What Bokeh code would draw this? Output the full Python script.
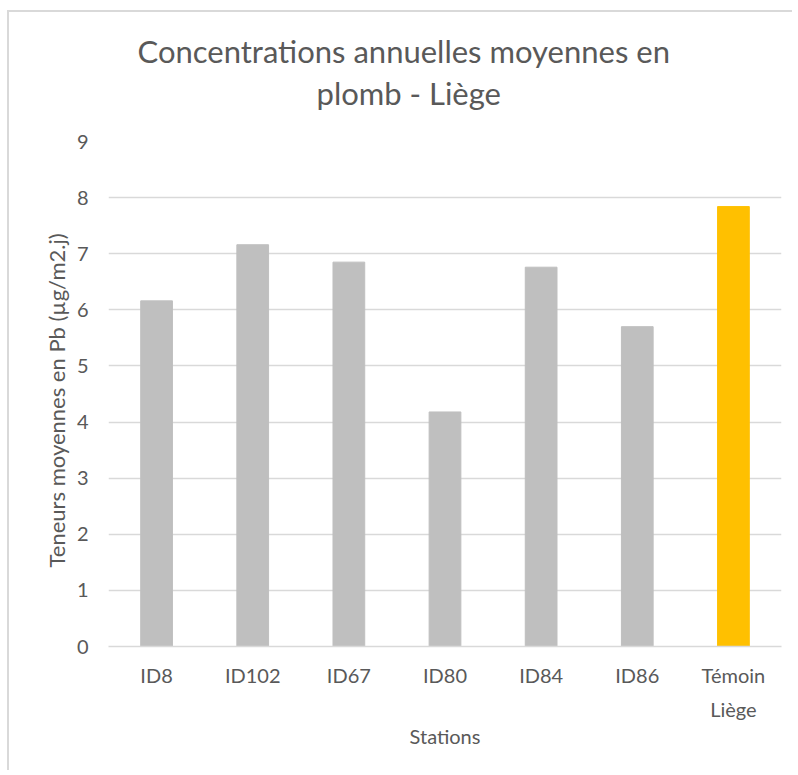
from bokeh.plotting import figure
from bokeh.models import ColumnDataSource, Title, FactorRange, Range1d, FixedTicker
from bokeh.embed import file_html
from bokeh.resources import INLINE

# ---- data ----
stations = ["ID8", "ID102", "ID67", "ID80", "ID84", "ID86", "Témoin\nLiège"]
teneurs = [6.16, 7.16, 6.85, 4.18, 6.76, 5.70, 7.84]
bar_colors = ["#BFBFBF", "#BFBFBF", "#BFBFBF", "#BFBFBF", "#BFBFBF", "#BFBFBF", "#FFC000"]
y_ticks = [0, 1, 2, 3, 4, 5, 6, 7, 8, 9]
title_line1 = "Concentrations annuelles moyennes en"
title_line2 = "plomb - Liège"
x_title = "Stations"
y_title = "Teneurs moyennes en Pb (µg/m2.j)"

FONT = "Lato"
TXT = "#595959"

src = ColumnDataSource(dict(station=stations, val=teneurs, color=bar_colors))

W, H = 785, 760
p = figure(width=W, height=H, x_range=FactorRange(*stations), y_range=Range1d(0, 9),
           output_backend="svg", toolbar_location=None, title=None,
           min_border_left=99, min_border_right=13, min_border_top=129, min_border_bottom=126)
p.styles = {"margin-top": "10px", "margin-left": "7px",
            "border-top": "2px solid #D9D9D9", "border-left": "2px solid #D9D9D9"}

p.vbar(x="station", top="val", width=0.33, color="color", source=src)

p.outline_line_color = None
p.xgrid.grid_line_color = None
p.ygrid.grid_line_color = "#D9D9D9"
p.ygrid.grid_line_width = 1.5
p.yaxis.ticker = FixedTicker(ticks=y_ticks)

for ax in (p.xaxis[0], p.yaxis[0]):
    ax.major_tick_line_color = None
    ax.minor_tick_line_color = None
    ax.major_tick_out = 0
    ax.major_tick_in = 0
    ax.major_label_text_font = FONT
    ax.major_label_text_font_size = "20px"
    ax.major_label_text_color = TXT
    ax.axis_label_text_font = FONT
    ax.axis_label_text_font_size = "20px"
    ax.axis_label_text_font_style = "normal"
    ax.axis_label_text_color = TXT

p.yaxis.axis_line_color = None
p.xaxis.axis_line_color = "#D9D9D9"
p.xaxis.axis_line_width = 1.5
p.yaxis.major_label_standoff = 20
p.xaxis.major_label_standoff = 16
p.xaxis.major_label_text_line_height = 1.45
p.xaxis.axis_label = x_title
p.xaxis.axis_label_standoff = 0

# y-axis title
p.add_layout(Title(text=y_title, align="left", offset=79, standoff=8,
                   text_font=FONT, text_font_size="22px", text_font_style="normal",
                   text_color=TXT), "left")

# two-line chart title (second line nearest the plot)
p.add_layout(Title(text=title_line2, align="left", offset=208, standoff=59,
                   text_font=FONT, text_font_size="31px", text_font_style="normal",
                   text_color=TXT), "above")
p.add_layout(Title(text=title_line1, align="left", offset=29, standoff=-54,
                   text_font=FONT, text_font_size="31px", text_font_style="normal",
                   text_color=TXT), "above")

open("out.html", "w").write(file_html(p, INLINE))
